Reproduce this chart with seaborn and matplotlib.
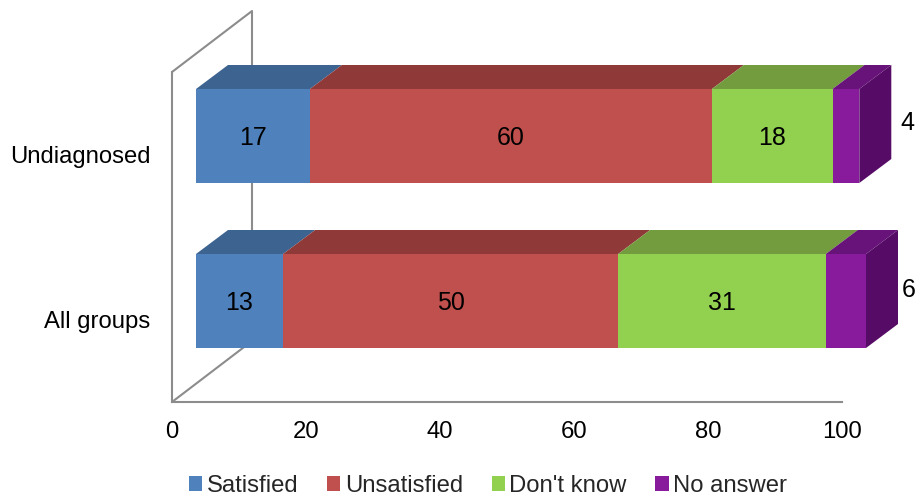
import matplotlib
matplotlib.use("Agg")
import matplotlib.pyplot as plt
from matplotlib.patches import Patch, Polygon
import numpy as np
import pandas as pd
import seaborn as sns

groups = ["Undiagnosed", "All groups"]
statuses = ["Satisfied", "Unsatisfied", "Don't know", "No answer"]
satisfied = [17, 13]
unsatisfied = [60, 50]
dont_know = [18, 31]
no_answer = [4, 6]
x_ticks = [0, 20, 40, 60, 80, 100]

front_colors = ["#4F81BD", "#C0504D", "#92D050", "#881A9C"]
top_colors = ["#3D6390", "#8F3A38", "#739C3E", "#67137A"]
side_color = "#560C66"
wall_color = "#8C8C8C"

# pixel sizes of the fake 3d box, turned into data units below
W, H = 917, 497
PX_X = 6.7
PX_Y = 165
BAR_SHIFT_X = 24 / PX_X
BAR_SHIFT_Y = 18.5 / PX_Y
BAR_DEPTH_X = 32 / PX_X
BAR_DEPTH_Y = 24 / PX_Y
WALL_DEPTH_X = 80 / PX_X
WALL_DEPTH_Y = 61 / PX_Y
BAR_WIDTH = 94 / PX_Y

sns.set_style("white")
plt.rcParams["font.family"] = ["Liberation Sans", "DejaVu Sans"]
FS = 17.2
LABEL_FS = 18

df = pd.DataFrame(
    {
        "group": groups * 4,
        "status": np.repeat(statuses, 2),
        "value": satisfied + unsatisfied + dont_know + no_answer,
    }
)

fig = plt.figure(figsize=(W / 100, H / 100), dpi=100)
ax = fig.add_axes([172 / W, 1 - 402 / H, 670 / W, 330 / H])
ax.patch.set_alpha(0)

# back wall and floor edges
ax.plot(
    [0, WALL_DEPTH_X, WALL_DEPTH_X],
    [-0.5, -0.5 - WALL_DEPTH_Y, 1.5 - WALL_DEPTH_Y],
    color=wall_color, lw=1.5, clip_on=False, zorder=1,
)
ax.plot(
    [0, WALL_DEPTH_X],
    [1.5, 1.5 - WALL_DEPTH_Y],
    color=wall_color, lw=1.5, clip_on=False, zorder=1,
)

starts = np.zeros(len(groups))
for i, status in enumerate(statuses):
    sub = df[df["status"] == status]
    vals = sub["value"].to_numpy(dtype=float)
    n_before = len(ax.patches)
    sns.barplot(
        data=sub, x="value", y="group", order=groups, color=front_colors[i],
        saturation=1, width=BAR_WIDTH, errorbar=None, ax=ax,
        left=starts + BAR_SHIFT_X, zorder=3, clip_on=False,
        linewidth=0, edgecolor="none",
    )
    for p in ax.patches[n_before:]:
        p.set_y(p.get_y() - BAR_SHIFT_Y)

    for j in range(len(groups)):
        x0 = starts[j] + BAR_SHIFT_X
        x1 = x0 + vals[j]
        y_top = j - BAR_SHIFT_Y - BAR_WIDTH / 2
        y_bot = y_top + BAR_WIDTH
        ax.add_patch(Polygon(
            [(x0, y_top), (x1, y_top), (x1 + BAR_DEPTH_X, y_top - BAR_DEPTH_Y),
             (x0 + BAR_DEPTH_X, y_top - BAR_DEPTH_Y)],
            facecolor=top_colors[i], edgecolor="none", zorder=2, clip_on=False,
        ))
        if status == statuses[-1]:
            ax.add_patch(Polygon(
                [(x1, y_top), (x1 + BAR_DEPTH_X, y_top - BAR_DEPTH_Y),
                 (x1 + BAR_DEPTH_X, y_bot - BAR_DEPTH_Y), (x1, y_bot)],
                facecolor=side_color, edgecolor="none", zorder=2, clip_on=False,
            ))
            # No answer labels sit out beside the box
            ax.annotate(
                f"{vals[j]:.0f}", (x0 + vals[j] / 2, j - BAR_SHIFT_Y),
                xytext=(44 + j, 9.5 - 1.5 * j), textcoords="offset points",
                ha="center", va="center", fontsize=LABEL_FS, color="black",
                annotation_clip=False,
            )
        else:
            ax.annotate(
                f"{vals[j]:.0f}", (x0 + vals[j] / 2, j - BAR_SHIFT_Y),
                xytext=(0, -1.5), textcoords="offset points",
                ha="center", va="center", fontsize=LABEL_FS, color="black",
                zorder=4,
            )
    starts = starts + vals

ax.set_xlim(0, 100)
ax.set_ylim(1.5, -0.5)
ax.set_xlabel("")
ax.set_ylabel("")
ax.set_xticks(x_ticks)
ax.tick_params(axis="x", length=0, pad=14, labelsize=FS, colors="black")
ax.tick_params(axis="y", length=0, pad=15.5, labelsize=FS, colors="black")
sns.despine(ax=ax)
for side in ["left", "bottom"]:
    ax.spines[side].set_color(wall_color)
    ax.spines[side].set_linewidth(1.5)

handles = [Patch(facecolor=c, edgecolor="none") for c in front_colors]
fig.legend(
    handles, statuses, ncols=4, frameon=False, fontsize=FS,
    loc="center", bbox_to_anchor=(488 / W, 1 - 486 / H),
    handlelength=0.55, handleheight=0.6, handletextpad=0.2,
    columnspacing=1.2, borderpad=0, borderaxespad=0,
)

fig.savefig("out.png", dpi=100)
